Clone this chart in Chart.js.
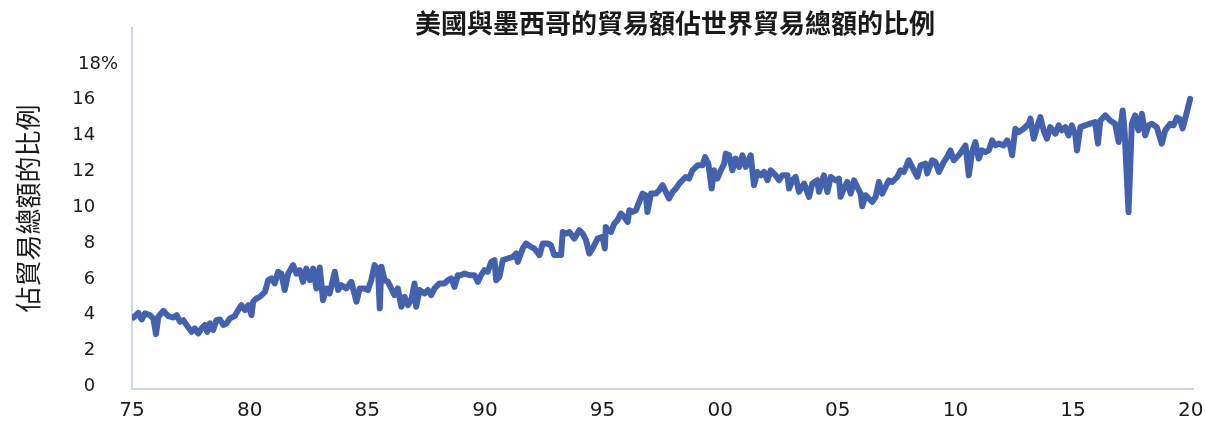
<!DOCTYPE html>
<html>
<head>
<meta charset="utf-8">
<script src="https://cdn.jsdelivr.net/npm/chart.js@4/dist/chart.umd.min.js"></script>
<style>
  html, body { margin: 0; padding: 0; background: #ffffff; }
  canvas { display: block; }
</style>
</head>
<body>
<canvas id="c" width="1205" height="422"></canvas>
<script>
const chartTitle = '美國與墨西哥的貿易額佔世界貿易總額的比例';
const yAxisTitle = '佔貿易總額的比例';

const xTicks = [1975, 1980, 1985, 1990, 1995, 2000, 2005, 2010, 2015, 2020];
const yTicks = [0, 2, 4, 6, 8, 10, 12, 14, 16, 18];

// decimal years
const dates = [
  1975.06,1975.27,1975.41,1975.55,1975.76,1975.91,1976.02,1976.12,1976.33,1976.54,
  1976.75,1976.90,1977.04,1977.18,1977.32,1977.53,1977.67,1977.82,1977.96,1978.10,
  1978.20,1978.31,1978.45,1978.59,1978.74,1978.88,1979.02,1979.16,1979.37,1979.51,
  1979.65,1979.80,1979.94,1980.08,1980.15,1980.29,1980.43,1980.65,1980.79,1980.93,
  1981.07,1981.21,1981.35,1981.49,1981.64,1981.85,1981.99,1982.13,1982.27,1982.41,
  1982.56,1982.70,1982.84,1982.98,1983.12,1983.26,1983.40,1983.62,1983.76,1983.90,
  1984.11,1984.32,1984.47,1984.54,1984.68,1984.89,1985.03,1985.17,1985.31,1985.46,
  1985.53,1985.60,1985.74,1985.88,1986.02,1986.16,1986.30,1986.45,1986.59,1986.73,
  1986.87,1987.01,1987.08,1987.22,1987.44,1987.58,1987.72,1987.86,1988.07,1988.28,
  1988.43,1988.57,1988.71,1988.85,1988.99,1989.13,1989.35,1989.56,1989.70,1989.84,
  1989.98,1990.12,1990.27,1990.41,1990.48,1990.62,1990.76,1990.97,1991.19,1991.33,
  1991.40,1991.61,1991.75,1991.96,1992.10,1992.32,1992.46,1992.67,1992.81,1992.95,
  1993.10,1993.24,1993.31,1993.45,1993.59,1993.80,1994.01,1994.16,1994.30,1994.44,
  1994.58,1994.79,1995.00,1995.10,1995.14,1995.22,1995.36,1995.50,1995.64,1995.78,
  1995.92,1996.07,1996.14,1996.28,1996.42,1996.56,1996.70,1996.84,1996.91,1997.06,
  1997.27,1997.41,1997.55,1997.69,1997.83,1997.98,1998.12,1998.26,1998.40,1998.54,
  1998.68,1998.82,1999.04,1999.25,1999.36,1999.50,1999.64,1999.74,1999.88,2000.03,
  2000.17,2000.24,2000.38,2000.52,2000.66,2000.81,2000.95,2001.09,2001.30,2001.44,
  2001.58,2001.73,2001.87,2002.01,2002.15,2002.36,2002.50,2002.65,2002.86,2002.93,
  2003.07,2003.21,2003.35,2003.57,2003.78,2003.92,2004.13,2004.20,2004.41,2004.56,
  2004.70,2004.91,2005.05,2005.12,2005.26,2005.40,2005.55,2005.69,2005.83,2005.97,
  2006.04,2006.18,2006.33,2006.47,2006.61,2006.75,2006.89,2007.03,2007.17,2007.31,
  2007.53,2007.67,2007.81,2008.02,2008.16,2008.38,2008.52,2008.73,2008.80,2009.01,
  2009.15,2009.30,2009.51,2009.65,2009.79,2009.93,2010.14,2010.29,2010.43,2010.57,
  2010.71,2010.85,2010.99,2011.13,2011.28,2011.42,2011.56,2011.70,2011.84,2012.05,
  2012.20,2012.34,2012.41,2012.55,2012.69,2012.90,2013.12,2013.19,2013.33,2013.47,
  2013.61,2013.75,2013.89,2014.03,2014.25,2014.39,2014.53,2014.67,2014.81,2014.95,
  2015.10,2015.17,2015.31,2015.52,2015.73,2015.94,2016.06,2016.16,2016.37,2016.58,
  2016.79,2016.94,2017.11,2017.19,2017.36,2017.50,2017.64,2017.78,2017.93,2018.07,
  2018.21,2018.35,2018.56,2018.77,2018.92,2019.13,2019.27,2019.41,2019.55,2019.66,
  2019.80,2019.98
];

// share of total trade, %
const shares = [
  3.85,4.11,3.74,4.08,3.98,3.79,2.92,3.89,4.22,3.93,
  3.85,3.98,3.61,3.70,3.43,3.05,3.24,2.96,3.24,3.43,
  3.05,3.52,3.15,3.70,3.74,3.43,3.52,3.80,3.93,4.26,
  4.54,4.26,4.54,3.98,4.73,4.91,5.00,5.28,5.93,6.03,
  5.75,6.40,6.30,5.38,6.30,6.77,6.30,6.49,5.84,6.58,
  5.93,6.58,5.47,6.64,4.82,5.47,5.19,6.40,5.38,5.65,
  5.47,5.84,5.10,4.73,5.47,5.47,5.38,5.93,6.77,6.49,
  4.36,6.68,5.93,5.84,5.47,5.10,5.47,4.45,5.00,4.54,
  4.82,5.75,4.45,5.38,5.19,5.38,5.10,5.47,5.75,5.75,
  5.93,6.03,5.56,6.21,6.21,6.30,6.21,6.21,5.84,6.21,
  6.49,6.40,6.95,7.05,5.93,6.12,7.05,7.14,7.23,7.42,
  6.95,7.70,7.98,7.79,7.70,7.33,7.98,7.98,7.88,7.33,
  7.33,7.33,8.62,8.53,8.62,8.25,8.72,8.53,8.16,7.42,
  7.70,8.25,8.35,7.70,8.90,8.72,8.62,9.09,9.28,9.65,
  9.46,9.18,9.83,9.74,9.83,10.30,10.76,10.67,9.74,10.76,
  10.76,10.95,11.23,10.86,10.48,10.86,11.04,11.32,11.51,11.69,
  11.60,12.06,12.34,12.34,12.80,12.43,11.04,12.06,11.60,12.06,
  12.43,12.99,12.90,12.06,12.71,12.25,12.90,12.25,12.90,11.23,
  11.97,11.78,11.97,11.51,12.06,11.78,11.51,11.78,11.78,11.04,
  11.51,11.69,10.86,11.32,10.58,11.32,11.51,10.86,11.78,10.85,
  11.69,11.50,11.60,10.58,11.04,11.41,10.76,11.50,11.13,10.76,
  10.05,10.67,10.48,10.30,10.58,11.41,10.76,11.13,11.50,11.41,
  11.69,12.06,11.97,12.62,12.25,11.69,12.34,12.43,11.88,12.62,
  12.53,11.97,12.53,12.80,13.17,12.62,12.90,13.17,13.45,11.78,
  13.08,13.64,12.71,13.17,13.08,13.17,13.73,13.45,13.55,13.45,
  13.73,13.36,12.90,14.38,14.19,14.38,14.66,14.94,13.82,14.47,
  15.03,14.29,13.82,14.47,14.10,14.57,14.29,14.47,14.01,14.57,
  14.01,13.17,14.47,14.57,14.66,14.75,13.55,14.84,15.12,14.84,
  14.66,13.64,15.40,14.29,9.73,14.66,15.12,14.29,15.21,14.01,
  14.57,14.66,14.47,13.55,14.29,14.66,14.57,15.00,14.90,14.40,
  15.10,16.05
];

const lineColor = '#4361ad';
const axisColor = '#ccd5ee';
const textColor = '#1a1a1a';

const titlePlugin = {
  id: 'customTitle',
  afterDraw(chart) {
    const ctx = chart.ctx;
    ctx.save();
    ctx.font = 'bold 26px "Noto Sans CJK TC"';
    ctx.fillStyle = textColor;
    ctx.textAlign = 'center';
    ctx.textBaseline = 'middle';
    ctx.fillText(chartTitle, 675, 23);
    ctx.restore();
  }
};

new Chart(document.getElementById('c'), {
  type: 'line',
  data: {
    datasets: [{
      data: dates.map((d, i) => ({ x: d, y: shares[i] })),
      borderColor: lineColor,
      borderWidth: 6,
      pointRadius: 0,
      tension: 0,
      borderJoinStyle: 'round',
      borderCapStyle: 'round',
      fill: false
    }]
  },
  options: {
    responsive: false,
    animation: false,
    devicePixelRatio: 1,
    layout: { padding: { top: 28, right: 12, bottom: 0, left: 0 } },
    plugins: { legend: { display: false }, tooltip: { enabled: false }, title: { display: false } },
    scales: {
      x: {
        type: 'linear',
        min: 1975,
        max: 2020.1,
        grid: { display: false, drawTicks: false },
        border: { display: true, color: axisColor, width: 2 },
        afterBuildTicks: s => { s.ticks = xTicks.map(v => ({ value: v })); },
        afterFit: s => { s.height = 33; s.paddingLeft = 0; s.paddingRight = 0; },
        ticks: {
          autoSkip: false, maxRotation: 0, padding: 10, color: textColor,
          font: { family: 'DejaVu Sans', size: 20 },
          callback: v => String(Math.round(v) % 100).padStart(2, '0')
        }
      },
      y: {
        min: -0.14,
        max: 20,
        grid: { display: false, drawTicks: false },
        border: { display: true, color: axisColor, width: 2 },
        afterBuildTicks: s => { s.ticks = yTicks.map(v => ({ value: v })); },
        afterFit: s => { s.width = 132; s.paddingTop = 0; s.paddingBottom = 0; },
        ticks: {
          padding: 14, color: textColor,
          font: { family: 'DejaVu Sans', size: 18 },
          callback: v => v === 18 ? '18%' : String(v) + '\u2007\u2007'
        },
        title: {
          display: true, text: yAxisTitle, color: textColor,
          font: { family: 'Noto Sans CJK TC', size: 26 },
          padding: { top: 13, bottom: 0 }
        }
      }
    }
  },
  plugins: [titlePlugin]
});
</script>
</body>
</html>
